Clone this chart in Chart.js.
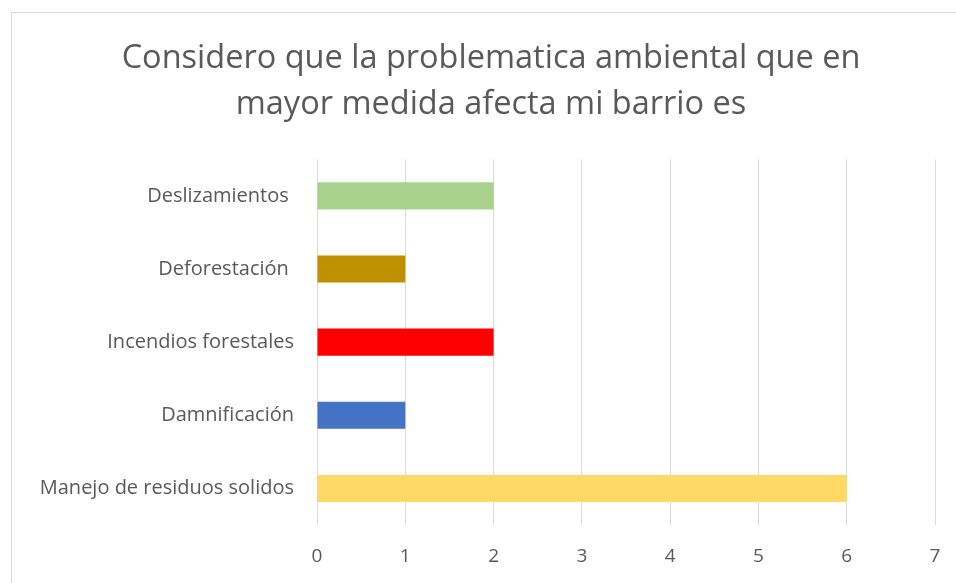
<!DOCTYPE html>
<html>
<head>
<meta charset="utf-8">
<script src="https://cdn.jsdelivr.net/npm/chart.js@4"></script>
<style>
  html, body { margin: 0; padding: 0; background: #fff; }
  #wrap { position: relative; width: 956px; height: 583px; overflow: hidden; }
  #frame { position: absolute; left: 11px; top: 12px; width: 1000px; height: 700px; border: 1px solid #d9d9d9; box-sizing: border-box; }
  canvas { position: absolute; left: 0; top: 0; }
</style>
</head>
<body>
<div id="wrap">
  <div id="frame"></div>
  <canvas id="chart" width="956" height="583"></canvas>
</div>
<script>
// datos (de arriba hacia abajo)
const categories = ['Deslizamientos ', 'Deforestación ', 'Incendios forestales', 'Damnificación', 'Manejo de residuos solidos'];
const values = [2, 1, 2, 1, 6];
const barColors = ['#A9D18E', '#BF9000', '#FF0000', '#4472C4', '#FFD966'];
const xTicks = [0, 1, 2, 3, 4, 5, 6, 7];
const titleLines = ['Considero que la problematica ambiental que en', 'mayor medida afecta mi barrio es'];

const FONT = 'Open Sans, Noto Sans, sans-serif';
const TEXT = '#595959';

// el título del original está un poco corrido a la derecha
const shiftTitle = {
    id: 'shiftTitle',
    afterLayout(chart) {
        if (chart.titleBlock) chart.titleBlock.left += 27;
    }
};

new Chart(document.getElementById('chart').getContext('2d'), {
    type: 'bar',
    data: {
        labels: categories,
        datasets: [{
            data: values,
            backgroundColor: barColors,
            categoryPercentage: 1,
            barPercentage: 0.37
        }]
    },
    options: {
        indexAxis: 'y',
        responsive: false,
        animation: false,
        layout: { padding: { top: 12, left: 20, right: 21, bottom: 0 } },
        plugins: {
            legend: { display: false },
            tooltip: { enabled: false },
            title: {
                display: true,
                text: titleLines,
                color: TEXT,
                font: { family: FONT, size: 32.5, weight: 'normal', lineHeight: 1.42 },
                padding: { top: 24, bottom: 31 }
            }
        },
        scales: {
            x: {
                min: 0,
                max: 7,
                afterBuildTicks: s => { s.ticks = xTicks.map(v => ({ value: v })); },
                grid: { color: '#d9d9d9', lineWidth: 1, drawTicks: false },
                border: { display: false },
                ticks: { color: TEXT, font: { family: FONT, size: 19 }, padding: 20 },
                afterFit: s => { s.height = 58; s.paddingRight = 0; }
            },
            y: {
                grid: { display: false },
                border: { display: false },
                ticks: { color: TEXT, font: { family: FONT, size: 20 }, padding: 15 },
                afterFit: s => { s.width = 317 - 20; }
            }
        }
    },
    plugins: [shiftTitle]
});
</script>
</body>
</html>
